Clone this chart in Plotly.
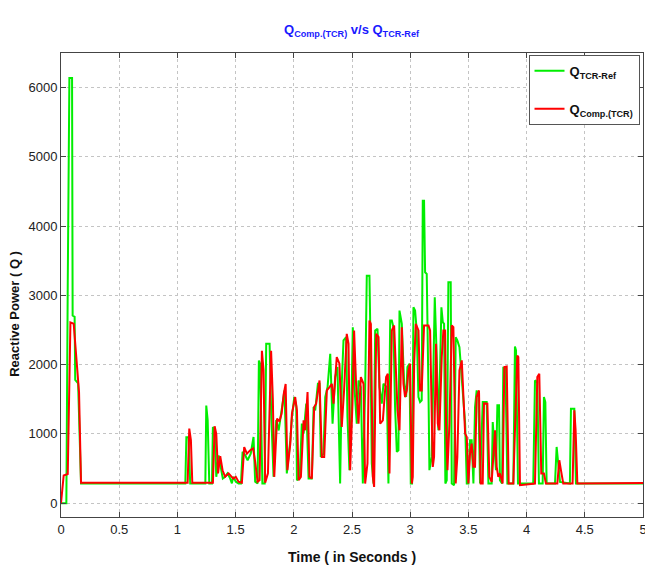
import plotly.graph_objects as go

# Reference reactive power demanded by the TCR controller (time in s, Q)
t_ref = [0.000, 0.046, 0.058, 0.072, 0.095, 0.100, 0.117, 0.122, 0.147, 0.157, 0.172,
         1.068, 1.077, 1.096, 1.110, 1.240, 1.248, 1.260, 1.274, 1.297, 1.305, 1.320,
         1.334, 1.354, 1.368, 1.390, 1.410, 1.430, 1.454, 1.468, 1.480, 1.502, 1.525,
         1.546, 1.560, 1.583, 1.603, 1.630, 1.654, 1.668, 1.689, 1.700, 1.711, 1.730,
         1.750, 1.763, 1.792, 1.806, 1.826, 1.849, 1.870, 1.900, 1.920, 1.940, 1.970,
         1.984, 2.004, 2.021, 2.027, 2.050, 2.069, 2.084, 2.107, 2.127, 2.155, 2.170,
         2.184, 2.207, 2.221, 2.232, 2.255, 2.270, 2.290, 2.313, 2.333, 2.355, 2.375,
         2.398, 2.412, 2.427, 2.450, 2.461, 2.478, 2.493, 2.507, 2.521, 2.541, 2.556,
         2.576, 2.593, 2.613, 2.627, 2.650, 2.656, 2.670, 2.685, 2.699, 2.719, 2.736,
         2.756, 2.770, 2.799, 2.813, 2.828, 2.842, 2.856, 2.870, 2.885, 2.899, 2.908,
         2.928, 2.948, 2.965, 2.976, 2.994, 3.005, 3.016, 3.028, 3.042, 3.056, 3.071,
         3.085, 3.099, 3.108, 3.119, 3.128, 3.142, 3.157, 3.165, 3.185, 3.200, 3.211,
         3.228, 3.242, 3.257, 3.268, 3.280, 3.291, 3.302, 3.314, 3.328, 3.348, 3.357,
         3.377, 3.391, 3.405, 3.423, 3.437, 3.457, 3.472, 3.486, 3.500, 3.514, 3.528,
         3.543, 3.557, 3.571, 3.586, 3.600, 3.623, 3.657, 3.672, 3.700, 3.709, 3.720,
         3.737, 3.749, 3.763, 3.771, 3.789, 3.800, 3.818, 3.835, 3.886, 3.900, 3.909,
         3.926, 4.057, 4.072, 4.092, 4.106, 4.138, 4.149, 4.161, 4.172, 4.244, 4.258,
         4.272, 4.287, 4.372, 4.381, 4.410, 4.424, 5.000]
q_ref = [0, 0, 3170, 6140, 6140, 2710, 2690, 1780, 1730, 960, 285,
         285, 950, 950, 285, 285, 1410, 1200, 285, 285, 1100, 1050,
         380, 690, 570, 355, 380, 430, 355, 285, 380, 310, 285,
         285, 740, 690, 620, 715, 955, 310, 285, 2060, 2010, 285,
         285, 2300, 2300, 1290, 380, 1200, 1050, 1440, 1630, 430, 910,
         1244, 1532, 1400, 331, 356, 1148, 1004, 1436, 356, 356, 1388,
         1340, 1724, 1724, 668, 716, 1532, 1676, 2157, 1148, 1821, 1965,
         283, 1724, 2349, 2397, 1244, 476, 1244, 2541, 1676, 1148, 1772,
         1676, 283, 1628, 3285, 3285, 2637, 572, 283, 2493, 2517, 1676,
         1436, 1724, 1676, 283, 2637, 2637, 2541, 1388, 740, 764, 2781,
         2589, 1724, 1532, 1965, 2013, 283, 283, 2829, 2781, 2493, 1532,
         1460, 1484, 4366, 4366, 3333, 3310, 1628, 476, 668, 2109, 2973,
         2109, 1052, 1965, 2829, 2613, 2589, 283, 331, 3189, 3189, 283,
         259, 2397, 2349, 2253, 1965, 1484, 1148, 283, 283, 908, 908,
         283, 1388, 1628, 1532, 283, 1460, 1460, 283, 283, 1172, 908,
         476, 1412, 1412, 331, 283, 1955, 1955, 283, 283, 2262, 2205,
         283, 283, 1772, 1748, 283, 283, 1532, 1460, 283, 283, 812,
         572, 307, 283, 1364, 1364, 283, 283]

# Reactive power actually compensated by the TCR
t_comp = [0.000, 0.023, 0.058, 0.081, 0.109, 0.146, 0.155, 0.172, 1.088, 1.102, 1.116,
          1.128, 1.305, 1.320, 1.334, 1.349, 1.368, 1.388, 1.410, 1.440, 1.460, 1.480,
          1.502, 1.525, 1.554, 1.574, 1.597, 1.626, 1.650, 1.668, 1.689, 1.706, 1.726,
          1.740, 1.754, 1.778, 1.805, 1.820, 1.832, 1.856, 1.876, 1.895, 1.914, 1.930,
          1.945, 1.970, 1.984, 2.012, 2.027, 2.041, 2.061, 2.084, 2.098, 2.118, 2.135,
          2.155, 2.175, 2.192, 2.221, 2.241, 2.261, 2.284, 2.307, 2.327, 2.341, 2.369,
          2.392, 2.412, 2.432, 2.455, 2.470, 2.484, 2.504, 2.518, 2.535, 2.556, 2.576,
          2.599, 2.613, 2.633, 2.650, 2.662, 2.679, 2.690, 2.708, 2.728, 2.742, 2.765,
          2.793, 2.808, 2.822, 2.842, 2.862, 2.879, 2.891, 2.908, 2.928, 2.942, 2.956,
          2.971, 2.985, 2.999, 3.014, 3.022, 3.034, 3.048, 3.071, 3.085, 3.099, 3.119,
          3.157, 3.171, 3.185, 3.194, 3.205, 3.222, 3.237, 3.251, 3.271, 3.285, 3.300,
          3.308, 3.320, 3.337, 3.357, 3.371, 3.380, 3.391, 3.405, 3.423, 3.443, 3.457,
          3.472, 3.486, 3.500, 3.514, 3.528, 3.543, 3.557, 3.571, 3.591, 3.606, 3.623,
          3.634, 3.663, 3.680, 3.700, 3.729, 3.743, 3.757, 3.771, 3.794, 3.809, 3.829,
          3.846, 3.886, 3.920, 3.929, 3.943, 4.072, 4.092, 4.109, 4.126, 4.149, 4.166,
          4.264, 4.281, 4.295, 4.315, 4.395, 4.410, 4.421, 4.436, 5.000]
q_comp = [0, 400, 420, 2610, 2590, 1680, 1600, 295, 295, 1076, 910,
          295, 295, 1110, 1000, 430, 680, 475, 380, 430, 390, 355,
          380, 310, 295, 810, 715, 765, 790, 600, 310, 330, 2200,
          1920, 295, 430, 2200, 1500, 380, 1220, 1180, 1290, 1580, 1720,
          475, 860, 1292, 1532, 1340, 331, 380, 1196, 1052, 1604, 380,
          356, 1388, 1436, 1772, 668, 668, 1628, 1676, 1724, 1436, 2109,
          2013, 1100, 1628, 2445, 2301, 476, 1436, 2493, 1724, 1148, 1821,
          1724, 283, 572, 2637, 2589, 380, 235, 2445, 2397, 1148, 1196,
          1821, 1869, 428, 2493, 2565, 1724, 1340, 1052, 2541, 1724, 1532,
          1628, 1917, 2013, 283, 380, 2013, 2589, 2493, 1628, 1628, 2565,
          2565, 2493, 860, 524, 668, 2301, 1148, 1052, 2109, 2493, 2493,
          1148, 476, 1148, 2565, 2541, 1628, 283, 668, 1917, 2061, 1532,
          1004, 956, 283, 716, 860, 524, 524, 1532, 1628, 283, 283,
          1440, 1436, 380, 307, 1052, 524, 380, 428, 283, 1965, 1974,
          283, 283, 2133, 2109, 259, 283, 1821, 1869, 428, 428, 283,
          283, 620, 476, 283, 283, 1340, 1052, 283, 290]

x_ticks = [0, 0.5, 1, 1.5, 2, 2.5, 3, 3.5, 4, 4.5, 5]
x_tick_text = ["0", "0.5", "1", "1.5", "2", "2.5", "3", "3.5", "4", "4.5", "5"]
y_ticks = [0, 1000, 2000, 3000, 4000, 5000, 6000]

FONT = "Liberation Sans, Arial, sans-serif"

fig = go.Figure()
fig.add_trace(go.Scatter(
    x=t_ref, y=q_ref, mode="lines", name="<b>Q<sub>TCR-Ref</sub></b>",
    legendgroup="ref",
    line=dict(color="#00ee00", width=2)))
fig.add_trace(go.Scatter(
    x=t_comp, y=q_comp, mode="lines", name="<b>Q<sub>Comp.(TCR)</sub></b>",
    legendgroup="comp",
    line=dict(color="#ff0000", width=2)))

axis_common = dict(
    showline=True, linecolor="#444444", linewidth=1, mirror="ticks",
    ticks="inside", ticklen=5, tickcolor="#444444",
    showgrid=True, gridcolor="#c4c4c4", griddash="dot", gridwidth=1,
    zeroline=False, ticklabeloverflow="allow", automargin=False,
    tickfont=dict(family=FONT, size=13, color="#222222"),
)

fig.update_xaxes(range=[0, 5], tickvals=x_ticks, ticktext=x_tick_text, **axis_common)
fig.update_yaxes(range=[-200, 6500], tickvals=y_ticks, **axis_common)

fig.update_layout(
    width=645, height=566,
    margin=dict(l=61, r=2, t=53, b=49),
    paper_bgcolor="white", plot_bgcolor="white",
    showlegend=True,
    legend=dict(
        x=0.994, y=0.996, xanchor="right", yanchor="top",
        bgcolor="white", bordercolor="#555555", borderwidth=1,
        font=dict(family=FONT, size=13, color="#111111"),
        tracegroupgap=18, itemwidth=30,
    ),
    annotations=[
        dict(text="<b>Q<sub>Comp.(TCR)</sub> v/s Q<sub>TCR-Ref</sub></b>",
             xref="paper", yref="paper", x=0.5, y=1.0, yshift=12,
             xanchor="center", yanchor="bottom", showarrow=False,
             font=dict(family=FONT, size=13, color="#1a1aff")),
        dict(text="<b>Time ( in Seconds )</b>",
             xref="paper", yref="paper", x=0.5, y=0, yshift=-30,
             xanchor="center", yanchor="top", showarrow=False,
             font=dict(family=FONT, size=14, color="#111111")),
        dict(text="<b>Reactive Power ( Q )</b>",
             xref="paper", yref="paper", x=0, xshift=-46, y=0.438,
             xanchor="center", yanchor="middle", textangle=-90, showarrow=False,
             font=dict(family=FONT, size=13, color="#111111")),
    ],
)

fig.write_html("out.html")
